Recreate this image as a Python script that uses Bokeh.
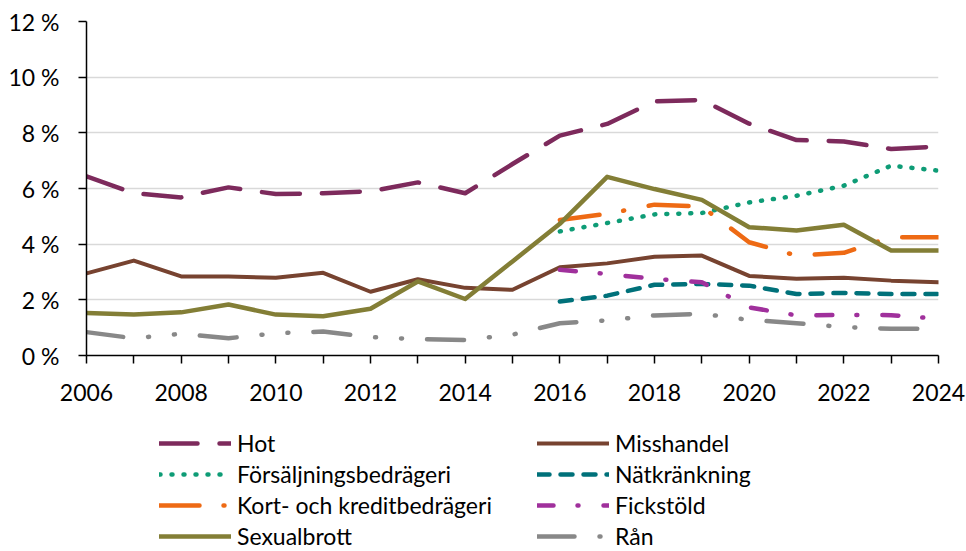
from bokeh.plotting import figure
from bokeh.layouts import column
from bokeh.models import (Range1d, FixedTicker, CustomJSTickFormatter, Legend, LegendItem)
from bokeh.embed import file_html
from bokeh.resources import INLINE

# ---- data (percent) ----
years_all = [2006, 2007, 2008, 2009, 2010, 2011, 2012, 2013, 2014, 2015,
             2016, 2017, 2018, 2019, 2020, 2021, 2022, 2023, 2024]
years_new = [2016, 2017, 2018, 2019, 2020, 2021, 2022, 2023, 2024]

hot = [6.44, 5.83, 5.68, 6.04, 5.80, 5.83, 5.90, 6.22, 5.83, 6.88,
       7.90, 8.32, 9.13, 9.18, 8.33, 7.74, 7.69, 7.42, 7.51]
misshandel = [2.95, 3.41, 2.84, 2.84, 2.79, 2.97, 2.29, 2.74, 2.43, 2.36,
              3.17, 3.31, 3.55, 3.59, 2.86, 2.76, 2.79, 2.69, 2.63]
sexualbrott = [1.53, 1.47, 1.55, 1.83, 1.47, 1.41, 1.68, 2.66, 2.03, 3.38,
               4.73, 6.42, 5.98, 5.59, 4.61, 4.49, 4.70, 3.77, 3.77]
ran = [0.84, 0.62, 0.78, 0.62, 0.80, 0.86, 0.66, 0.59, 0.56, 0.75,
       1.16, 1.26, 1.44, 1.50, 1.28, 1.16, 1.02, 0.96, 0.96]
forsaljning = [4.46, 4.76, 5.07, 5.12, 5.50, 5.74, 6.10, 6.82, 6.64]
natkrankning = [1.94, 2.15, 2.54, 2.57, 2.51, 2.21, 2.25, 2.21, 2.21]
kort = [4.87, 5.09, 5.42, 5.35, 4.07, 3.59, 3.69, 4.25, 4.25]
fickstold = [3.08, 2.93, 2.75, 2.63, 1.73, 1.44, 1.46, 1.45, 1.32]

y_ticks = [0, 2, 4, 6, 8, 10, 12]
x_ticks = [2006, 2008, 2010, 2012, 2014, 2016, 2018, 2020, 2022, 2024]
x_minor = [2007, 2009, 2011, 2013, 2015, 2017, 2019, 2021, 2023]

FONT = "Lato"
FS = "23px"

# ---------------- chart ----------------
p = figure(width=966, height=414, output_backend="svg", toolbar_location=None,
           x_range=Range1d(2006, 2024), y_range=Range1d(0, 12),
           min_border_left=86, min_border_right=28, min_border_top=21,
           min_border_bottom=59)
p.outline_line_color = None
p.background_fill_color = "white"
p.border_fill_color = "white"

p.xgrid.grid_line_color = None
p.ygrid.grid_line_color = "#D9D9D9"
p.ygrid.grid_line_width = 1.5

p.yaxis.ticker = FixedTicker(ticks=y_ticks)
p.yaxis.formatter = CustomJSTickFormatter(code="return tick.toFixed(0) + ' %';")
p.xaxis.ticker = FixedTicker(ticks=x_ticks, minor_ticks=x_minor)
for ax in (p.xaxis[0], p.yaxis[0]):
    ax.axis_line_color = "black"
    ax.axis_line_width = 1.5
    ax.major_tick_line_color = "black"
    ax.major_tick_line_width = 1.5
    ax.major_tick_in = 0
    ax.major_tick_out = 8
    ax.major_label_text_font = FONT
    ax.major_label_text_font_size = FS
    ax.major_label_text_color = "black"
p.xaxis.minor_tick_line_color = "black"
p.xaxis.minor_tick_line_width = 1.5
p.xaxis.minor_tick_in = 0
p.xaxis.minor_tick_out = 8
p.yaxis.minor_tick_line_color = None
p.xaxis.major_label_standoff = 20
p.yaxis.major_label_standoff = 19

W = 4.5
series = [
    ("Hot", years_all, hot, "#7D2A5C", "38 22", W),
    ("Misshandel", years_all, misshandel, "#774330", "solid", 4),
    ("Försäljningsbedrägeri", years_new, forsaljning, "#0E9C76", "1 11", W),
    ("Nätkränkning", years_new, natkrankning, "#00717A", "12 11", W),
    ("Kort- och kreditbedrägeri", years_new, kort, "#EE6A14", "40 24 1 25", W),
    ("Fickstöld", years_new, fickstold, "#A0309C", "16 24 1 25", W),
    ("Sexualbrott", years_all, sexualbrott, "#837E36", "solid", 4.5),
    ("Rån", years_all, ran, "#888888", "37 25 1 25 1 25", W),
]

for name, xs, ys, col, dash, w in series:
    p.line(xs, ys, line_color=col, line_width=w, line_dash=dash,
           line_cap="round", line_join="round")

# ---------------- legend strip ----------------
lg = figure(width=966, height=137, output_backend="svg", toolbar_location=None,
            x_range=Range1d(0, 1), y_range=Range1d(0, 1),
            min_border_left=0, min_border_right=0, min_border_top=0,
            min_border_bottom=0, x_axis_type=None, y_axis_type=None)
lg.outline_line_color = None
lg.xgrid.grid_line_color = None
lg.ygrid.grid_line_color = None
lg.background_fill_color = "white"
lg.border_fill_color = "white"

legend_renderers = {}
for name, xs, ys, col, dash, w in series:
    r = lg.line(xs, ys, line_color=col, line_width=w, line_dash=dash,
                line_cap="round", line_join="round", visible=False)
    legend_renderers[name] = r

col1 = ["Hot", "Försäljningsbedrägeri", "Kort- och kreditbedrägeri", "Sexualbrott"]
col2 = ["Misshandel", "Nätkränkning", "Fickstöld", "Rån"]

leg = Legend(items=[LegendItem(label=n, renderers=[legend_renderers[n]]) for n in col1 + col2],
             location=(73, 1), orientation="vertical", ncols=2,
             glyph_width=72, glyph_height=20, label_height=20, label_width=297,
             label_standoff=6, spacing=3, padding=0, margin=0,
             border_line_color=None, background_fill_alpha=0,
             inactive_fill_alpha=0,
             label_text_font=FONT, label_text_font_size=FS,
             label_text_color="black")
lg.add_layout(leg, "center")

layout = column(p, lg, spacing=0)
open("out.html", "w").write(file_html(layout, INLINE))
